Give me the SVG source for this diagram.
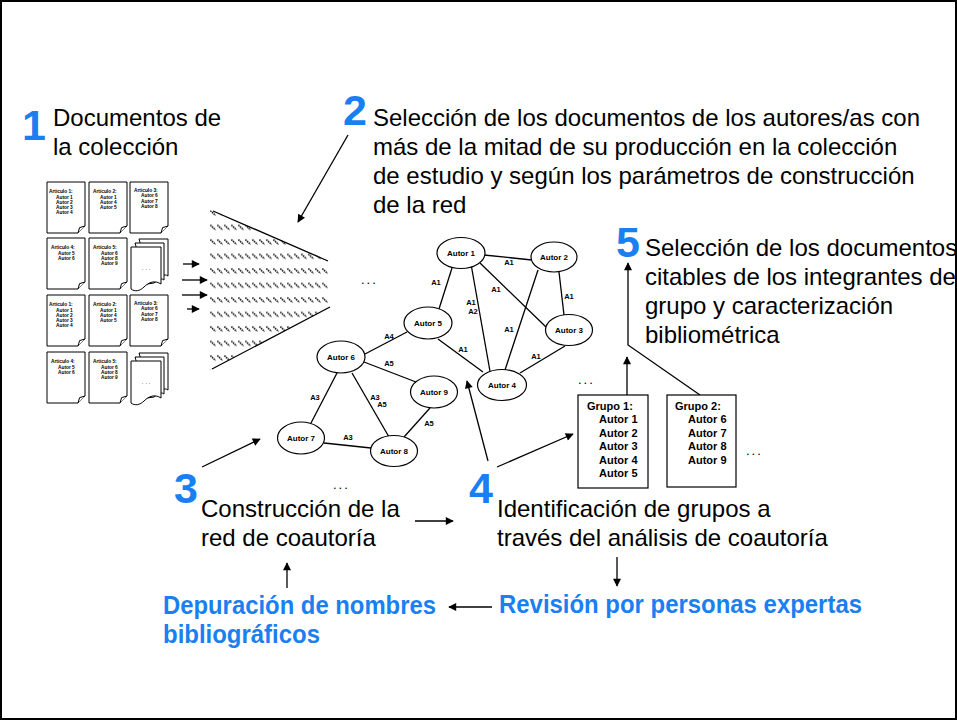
<svg xmlns="http://www.w3.org/2000/svg" width="957" height="720" viewBox="0 0 957 720">
<style>
text{font-family:"Liberation Sans",Arial,sans-serif;fill:#000}
.big{font-size:24px}
.num{font-size:43px;font-weight:bold;fill:#1a7ff0}
.blue{font-size:25px;font-weight:bold;fill:#1a7ff0}
.dt{font-size:4.8px;font-weight:bold}
.nd{font-size:8px;font-weight:bold;text-anchor:middle}
.el{font-size:7.5px;font-weight:bold;text-anchor:middle}
.gt{font-size:11px;font-weight:bold}
.dots{font-size:13px;letter-spacing:2px}
.ln{stroke:#000;stroke-width:1.3;fill:none}
.arr{stroke:#000;stroke-width:1.3;fill:none;marker-end:url(#ah)}
.ell{fill:#fff;stroke:#000;stroke-width:1.2}
.doc{fill:#fff;stroke:#000;stroke-width:1}
.box{fill:#fff;stroke:#000;stroke-width:1.2}
</style>
<defs>
<marker id="ah" viewBox="0 0 10 10" refX="9" refY="5" markerUnits="userSpaceOnUse" markerWidth="9" markerHeight="8" orient="auto">
<path d="M0,0 L10,5 L0,10 Z" fill="#000"/>
</marker>
<pattern id="hatch" patternUnits="userSpaceOnUse" x="210" y="209" width="7" height="14.5">
<path d="M0.3,1.5 L5.6,6.5" stroke="#222" stroke-width="1.7" stroke-dasharray="1.6 0.7"/>
</pattern>
<g id="page">
<path class="doc" d="M0,0 H38 V44 L31,51 H0 Z"/>
<path class="doc" d="M31,51 L32.6,45.6 L38,44"/>
</g>
<g id="multi">
<path class="doc" d="M8,0 H37 V37 C33,34 30,38 27,40 L20,41 Z"/>
<path class="doc" d="M4,4 H33 V41 C29,38 26,42 23,44 L16,45 Z"/>
<path class="doc" d="M0,8 H30 V45 C24,41 18,43 13,48 C9,52 4,53 0,50 Z"/>
</g>
</defs>
<rect x="1" y="1" width="955" height="718" fill="#fff" stroke="#000" stroke-width="2"/>

<g id="step1">
<text class="num" x="22" y="140">1</text>
<text class="big" x="53" y="126">Documentos de</text>
<text class="big" x="53" y="155">la colección</text>
</g>

<g id="documents">
<g id="doc1"><use href="#page" x="47" y="182"/>
<text class="dt" x="49" y="193">Articulo  1:</text><text class="dt" x="56" y="198.5">Autor 1</text><text class="dt" x="56" y="203.8">Autor 2</text><text class="dt" x="56" y="209.1">Autor 3</text><text class="dt" x="56" y="214.4">Autor 4</text></g>
<g id="doc2"><use href="#page" x="89" y="182"/>
<text class="dt" x="93" y="193">Articulo  2:</text><text class="dt" x="100" y="198.5">Autor 1</text><text class="dt" x="100" y="203.8">Autor 4</text><text class="dt" x="100" y="209.1">Autor 5</text></g>
<g id="doc3"><use href="#page" x="130" y="182"/>
<text class="dt" x="134" y="192">Articulo  3:</text><text class="dt" x="141" y="197.3">Autor 6</text><text class="dt" x="141" y="202.6">Autor 7</text><text class="dt" x="141" y="207.9">Autor 8</text></g>
<g id="doc4"><use href="#page" x="47" y="238"/>
<text class="dt" x="51" y="249">Articulo  4:</text><text class="dt" x="58" y="254.5">Autor 5</text><text class="dt" x="58" y="259.8">Autor 6</text></g>
<g id="doc5"><use href="#page" x="89" y="238"/>
<text class="dt" x="93" y="249">Articulo  5:</text><text class="dt" x="101" y="254.5">Autor 6</text><text class="dt" x="101" y="259.8">Autor 8</text><text class="dt" x="101" y="265.1">Autor 9</text></g>
<g id="multi1"><use href="#multi" x="131" y="239"/>
<text class="dt" x="146" y="270" text-anchor="middle" style="font-size:6px;font-weight:normal">. . .</text></g>
<g id="doc6"><use href="#page" x="47" y="295"/>
<text class="dt" x="49" y="306">Articulo  1:</text><text class="dt" x="56" y="311.5">Autor 1</text><text class="dt" x="56" y="316.8">Autor 2</text><text class="dt" x="56" y="322.1">Autor 3</text><text class="dt" x="56" y="327.4">Autor 4</text></g>
<g id="doc7"><use href="#page" x="89" y="295"/>
<text class="dt" x="93" y="306">Articulo  2:</text><text class="dt" x="100" y="311.5">Autor 1</text><text class="dt" x="100" y="316.8">Autor 4</text><text class="dt" x="100" y="322.1">Autor 5</text></g>
<g id="doc8"><use href="#page" x="130" y="295"/>
<text class="dt" x="134" y="305">Articulo  3:</text><text class="dt" x="141" y="310.3">Autor 6</text><text class="dt" x="141" y="315.6">Autor 7</text><text class="dt" x="141" y="320.9">Autor 8</text></g>
<g id="doc9"><use href="#page" x="47" y="352"/>
<text class="dt" x="51" y="363">Articulo  4:</text><text class="dt" x="58" y="368.5">Autor 5</text><text class="dt" x="58" y="373.8">Autor 6</text></g>
<g id="doc10"><use href="#page" x="89" y="352"/>
<text class="dt" x="93" y="363">Articulo  5:</text><text class="dt" x="101" y="368.5">Autor 6</text><text class="dt" x="101" y="373.8">Autor 8</text><text class="dt" x="101" y="379.1">Autor 9</text></g>
<g id="multi2"><use href="#multi" x="131" y="353"/>
<text class="dt" x="146" y="384" text-anchor="middle" style="font-size:6px;font-weight:normal">. . .</text></g>
</g>

<g id="filter">
<polygon points="210,210 328,260 328,308 210,370" fill="url(#hatch)"/>
<line class="ln" x1="213" y1="211" x2="328" y2="261"/>
<line class="ln" x1="212" y1="369" x2="330" y2="307"/>
</g>

<g id="step2">
<text class="num" x="343" y="125">2</text>
<text class="big" x="373" y="126">Selección de los documentos de los autores/as con</text>
<text class="big" x="373" y="155">más de la mitad de su producción en la colección</text>
<text class="big" x="373" y="184">de estudio y según los parámetros de construcción</text>
<text class="big" x="373" y="213">de la red</text>
</g>

<g id="connectors">
<line class="arr" x1="183" y1="264" x2="199" y2="264"/>
<line class="arr" x1="182" y1="280" x2="207" y2="280"/>
<line class="arr" x1="182" y1="295" x2="207" y2="295"/>
<line class="arr" x1="187" y1="309" x2="199" y2="309"/>
<line class="arr" x1="348" y1="135" x2="298" y2="222"/>
<line class="ln" x1="484" y1="255" x2="532" y2="260"/>
<line class="ln" x1="452" y1="268" x2="439" y2="309"/>
<line class="ln" x1="471" y1="264" x2="491" y2="377"/>
<line class="ln" x1="480" y1="263" x2="546" y2="327"/>
<line class="ln" x1="559" y1="272" x2="564" y2="315"/>
<line class="ln" x1="538" y1="270" x2="505" y2="370"/>
<line class="ln" x1="565" y1="346" x2="520" y2="373"/>
<line class="ln" x1="438" y1="339" x2="483" y2="372"/>
<line class="ln" x1="365" y1="354" x2="407" y2="332"/>
<line class="ln" x1="364" y1="362" x2="416" y2="382"/>
<line class="ln" x1="337" y1="373" x2="311" y2="423"/>
<line class="ln" x1="352" y1="373" x2="389" y2="437"/>
<line class="ln" x1="430" y1="408" x2="404" y2="437"/>
<line class="ln" x1="324" y1="443" x2="371" y2="448"/>
<line class="arr" x1="202" y1="467" x2="260" y2="439"/>
<line class="arr" x1="415" y1="521" x2="453" y2="521"/>
<line class="arr" x1="488" y1="461" x2="467" y2="381"/>
<line class="arr" x1="497" y1="467" x2="573" y2="434"/>
<line class="arr" x1="627" y1="395" x2="627" y2="357"/>
<polyline class="arr" points="700,395 628,345 628,263"/>
<line class="arr" x1="287" y1="588" x2="287" y2="563"/>
<line class="arr" x1="617" y1="557" x2="617" y2="586"/>
<line class="arr" x1="492" y1="607" x2="449" y2="607"/>
</g>

<g id="edge-labels">
<text class="el" x="509" y="265">A1</text>
<text class="el" x="436" y="285">A1</text>
<text class="el" x="496" y="292">A1</text>
<text class="el" x="471" y="305">A1</text>
<text class="el" x="473" y="314">A2</text>
<text class="el" x="569" y="299">A1</text>
<text class="el" x="509" y="332">A1</text>
<text class="el" x="536" y="359">A1</text>
<text class="el" x="463" y="352">A1</text>
<text class="el" x="389" y="339">A4</text>
<text class="el" x="389" y="366">A5</text>
<text class="el" x="315" y="400">A3</text>
<text class="el" x="375" y="400">A3</text>
<text class="el" x="382" y="407">A5</text>
<text class="el" x="429" y="426">A5</text>
<text class="el" x="348" y="440">A3</text>
</g>

<g id="autor1"><ellipse class="ell" cx="461" cy="253" rx="24" ry="15.5"/><text class="nd" x="461" y="256">Autor 1</text></g>
<g id="autor2"><ellipse class="ell" cx="554" cy="257" rx="23" ry="15"/><text class="nd" x="554" y="260">Autor 2</text></g>
<g id="autor3"><ellipse class="ell" cx="569" cy="330" rx="23.5" ry="15.5"/><text class="nd" x="569" y="333">Autor 3</text></g>
<g id="autor4"><ellipse class="ell" cx="502" cy="385" rx="24.5" ry="15.5"/><text class="nd" x="502" y="388">Autor 4</text></g>
<g id="autor5"><ellipse class="ell" cx="428" cy="323" rx="24" ry="16"/><text class="nd" x="428" y="326">Autor 5</text></g>
<g id="autor6"><ellipse class="ell" cx="341" cy="357" rx="24" ry="16"/><text class="nd" x="341" y="360">Autor 6</text></g>
<g id="autor7"><ellipse class="ell" cx="301" cy="438" rx="23.5" ry="16"/><text class="nd" x="301" y="441">Autor 7</text></g>
<g id="autor8"><ellipse class="ell" cx="394" cy="451" rx="23.5" ry="15.5"/><text class="nd" x="394" y="454">Autor 8</text></g>
<g id="autor9"><ellipse class="ell" cx="434" cy="392" rx="23.5" ry="16"/><text class="nd" x="434" y="395">Autor 9</text></g>

<g id="ellipses-dots">
<text class="dots" x="361" y="284">...</text>
<text class="dots" x="333" y="489">...</text>
<text class="dots" x="578" y="384">...</text>
<text class="dots" x="746" y="455">...</text>
</g>

<g id="grupo1">
<rect class="box" x="578" y="395" width="70" height="93"/>
<text class="gt" x="587" y="410">Grupo 1:</text>
<text class="gt" x="599" y="423">Autor 1</text>
<text class="gt" x="599" y="436.5">Autor 2</text>
<text class="gt" x="599" y="450">Autor 3</text>
<text class="gt" x="599" y="463.5">Autor 4</text>
<text class="gt" x="599" y="477">Autor 5</text>
</g>
<g id="grupo2">
<rect class="box" x="667" y="395" width="69" height="92"/>
<text class="gt" x="675" y="410">Grupo 2:</text>
<text class="gt" x="688" y="423">Autor 6</text>
<text class="gt" x="688" y="436.5">Autor 7</text>
<text class="gt" x="688" y="450">Autor 8</text>
<text class="gt" x="688" y="463.5">Autor 9</text>
</g>

<g id="step5">
<text class="num" x="616" y="257">5</text>
<text class="big" x="645" y="256">Selección de los documentos</text>
<text class="big" x="645" y="285">citables de los integrantes de</text>
<text class="big" x="645" y="314">grupo y caracterización</text>
<text class="big" x="645" y="343">bibliométrica</text>
</g>

<g id="step3">
<text class="num" x="174" y="503">3</text>
<text class="big" x="201" y="517">Construcción de la</text>
<text class="big" x="201" y="546">red de coautoría</text>
</g>

<g id="step4">
<text class="num" x="469" y="503">4</text>
<text class="big" x="497" y="517">Identificación de grupos a</text>
<text class="big" x="497" y="546">través del análisis de coautoría</text>
</g>

<g id="depuracion">
<text class="blue" x="163" y="614" textLength="273" lengthAdjust="spacingAndGlyphs">Depuración de nombres</text>
<text class="blue" x="163" y="643" textLength="157" lengthAdjust="spacingAndGlyphs">bibliográficos</text>
</g>
<g id="revision">
<text class="blue" x="499" y="613" textLength="363" lengthAdjust="spacingAndGlyphs">Revisión por personas expertas</text>
</g>
</svg>
